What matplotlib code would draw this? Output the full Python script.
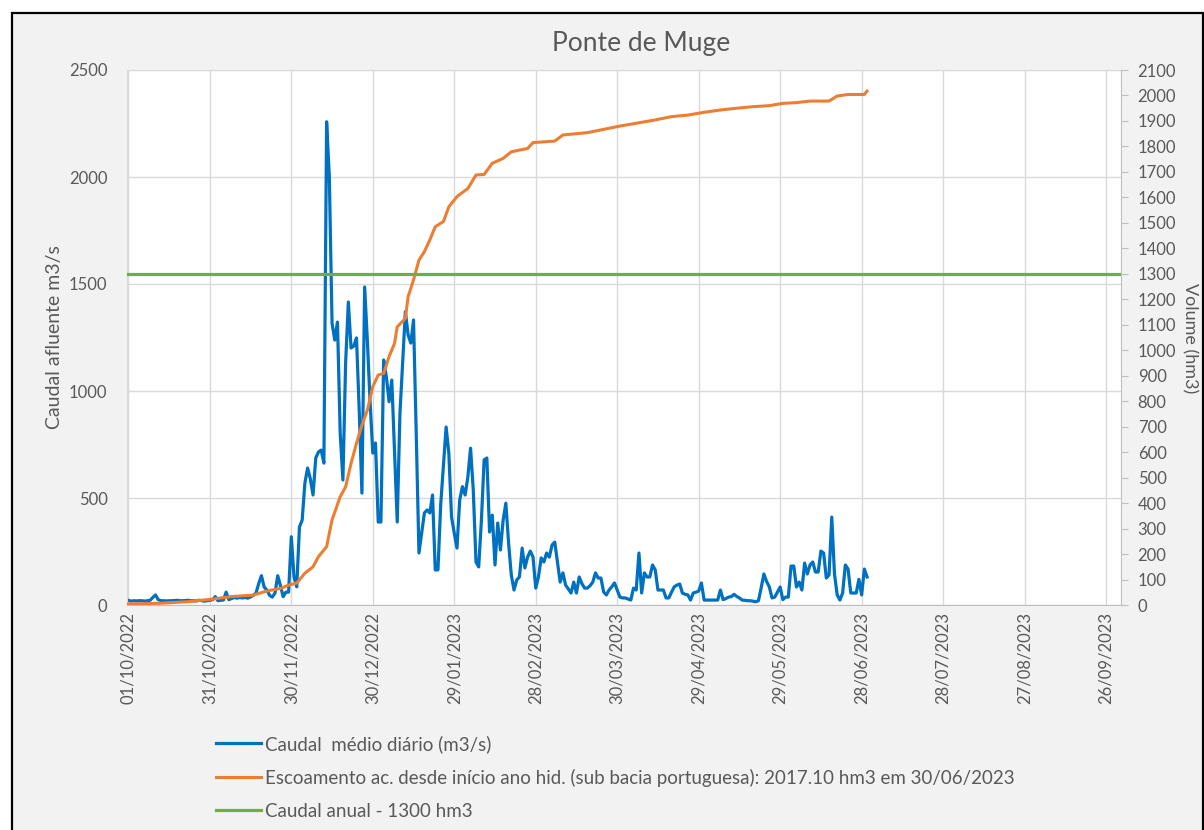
import matplotlib
matplotlib.use("Agg")
import matplotlib.pyplot as plt
import matplotlib.dates as mdates
from matplotlib.patches import Rectangle
import pandas as pd

plt.rcParams['font.family'] = ['Lato', 'DejaVu Sans']

# ---------------- data ----------------
title = "Ponte de Muge"
start_date = "2022-10-01"

# daily mean flow (m3/s), month by month
oct_q = [22, 18, 20, 19, 20, 20, 18, 20, 22, 35, 47, 25, 20, 20, 19, 20, 20, 21, 22, 20,
         20, 21, 22, 20, 20, 19, 22, 20, 18, 20, 22]
nov_q = [25, 39, 20, 22, 23, 60, 25, 30, 35, 32, 35, 33, 35, 32, 38, 45, 56, 100, 137, 84,
         70, 45, 37, 56, 137, 90, 39, 60, 60, 319]
dec_q = [130, 85, 365, 397, 570, 640, 590, 514, 687, 715, 724, 663, 2258, 2000, 1317, 1238,
         1322, 803, 584, 1131, 1416, 1201, 1210, 1248, 911, 523, 1486, 1238, 950, 710, 757]
jan_q = [388, 388, 1145, 1066, 950, 1051, 720, 388, 896, 1130, 1371, 1262, 1224, 1332, 800,
         243, 336, 430, 444, 430, 514, 164, 164, 467, 650, 832, 710, 411, 336, 266, 490]
feb_q = [553, 514, 598, 733, 537, 201, 178, 397, 678, 687, 341, 420, 187, 383, 257, 397,
         476, 290, 140, 70, 117, 131, 266, 173, 224, 252, 224, 79]
mar_q = [131, 220, 201, 243, 224, 280, 294, 200, 107, 150, 93, 75, 56, 107, 56, 131, 100,
         79, 79, 90, 107, 150, 126, 126, 61, 47, 70, 85, 103, 70, 37]
apr_q = [33, 33, 28, 23, 79, 70, 243, 56, 150, 131, 131, 187, 164, 70, 70, 70, 33, 33, 60,
         85, 93, 98, 56, 50, 47, 23, 56, 60, 65, 103]
may_q = [23, 23, 23, 23, 23, 23, 70, 25, 30, 37, 39, 50, 40, 33, 23, 22, 20, 20, 18, 15, 20,
         80, 145, 110, 85, 33, 37, 60, 84, 25, 37]
jun_q = [37, 182, 182, 84, 107, 70, 196, 145, 187, 201, 154, 154, 252, 243, 126, 140, 411,
         145, 47, 23, 56, 187, 168, 56, 56, 56, 120, 47, 168, 131]

# accumulated runoff (hm3): day of hydrological year and value
vol_days = [0, 12, 22, 30, 38, 46, 51, 56, 59, 62, 65, 68, 70, 73, 75, 78, 80, 82, 84, 86,
            88, 90, 92, 94, 96, 98, 99, 102, 103, 105, 107, 109, 111, 113, 116, 118, 121,
            125, 128, 131, 134, 138, 141, 147, 149, 157, 160, 169, 175, 181, 187, 194, 200,
            206, 212, 218, 224, 230, 236, 241, 246, 251, 258, 261, 265, 271, 272]
vol_vals = [4, 7, 13, 22, 33, 39, 55, 65, 78, 86, 125, 150, 190, 229, 334, 425, 464, 556,
            635, 706, 765, 857, 903, 909, 975, 1027, 1092, 1125, 1210, 1276, 1354, 1387,
            1433, 1485, 1505, 1563, 1603, 1635, 1688, 1690, 1734, 1753, 1779, 1792, 1815,
            1821, 1845, 1854, 1867, 1880, 1891, 1904, 1917, 1923, 1934, 1943, 1950, 1956,
            1960, 1969, 1972, 1978, 1978, 1998, 2004, 2004, 2017]

annual_volume = 1300

label_flow = "Caudal  médio diário (m3/s)"
label_vol = "Escoamento ac. desde início ano hid. (sub bacia portuguesa): 2017.10 hm3 em 30/06/2023"
label_annual = "Caudal anual - 1300 hm3"
ylabel_left = "Caudal afluente m3/s"
ylabel_right = "Volume (hm3)"

# ---------------- build ----------------
flow = oct_q + nov_q + dec_q + jan_q + feb_q + mar_q + apr_q + may_q + jun_q
t0 = pd.Timestamp(start_date)
flow_dates = pd.date_range(start_date, periods=len(flow), freq='D')
vol_dates = t0 + pd.to_timedelta(vol_days, unit='D')
tick_dates = pd.date_range(start_date, periods=13, freq='30D')

TXT = '#595959'
W, H = 1204, 830
fig = plt.figure(figsize=(W / 100, H / 100), dpi=100)
fig.patch.set_facecolor('white')
fig.patches.append(Rectangle((12 / W, -0.05), (1203 - 12) / W, 1.05 - 13 / H,
                             transform=fig.transFigure, facecolor='#f2f2f2',
                             edgecolor='black', lw=1.6, zorder=-10))

ax = fig.add_axes([127 / W, 1 - 605 / H, 994 / W, 535 / H])
ax.set_facecolor('white')
l1, = ax.plot(flow_dates, flow, color='#0070C0', lw=2.3, label=label_flow)
ax.set_ylim(0, 2500)
ax.set_yticks(range(0, 2501, 500))
ax.set_xlim(t0 - pd.Timedelta(hours=12), t0 + pd.Timedelta(days=365, hours=12))
ax.set_xticks(tick_dates)
ax.xaxis.set_major_formatter(mdates.DateFormatter('%d/%m/%Y'))
ax.grid(True, color='#d9d9d9', lw=1.0)
ax.set_axisbelow(True)
ax.tick_params(axis='y', length=0, labelsize=12, labelcolor=TXT, pad=14)
ax.tick_params(axis='x', length=0, labelsize=12, labelcolor=TXT, pad=5)
for lab in ax.get_xticklabels():
    lab.set_rotation(90)
    lab.set_ha('center')
    lab.set_va('top')
for s in ['top', 'left']:
    ax.spines[s].set_color('#d9d9d9')
ax.spines['bottom'].set_color('#bfbfbf')
ax.spines['right'].set_visible(False)

ax2 = ax.twinx()
l2, = ax2.plot(vol_dates, vol_vals, color='#ED7D31', lw=2.2, label=label_vol)
l3 = ax2.axhline(annual_volume, color='#70AD47', lw=2.3, label=label_annual)
ax2.set_ylim(0, 2100)
ax2.set_yticks(range(0, 2101, 100))
ax2.tick_params(axis='y', length=5, color='#bfbfbf', labelsize=12, labelcolor=TXT, pad=7)
for s in ['top', 'left', 'bottom']:
    ax2.spines[s].set_visible(False)
ax2.spines['right'].set_color('#bfbfbf')

fig.text(641 / W, 1 - 43 / H, title, ha='center', va='center', fontsize=19, color=TXT)
fig.text(55 / W, 1 - 337 / H, ylabel_left, rotation=90, ha='center', va='center',
         fontsize=14, color=TXT)
fig.text(1190 / W, 1 - 338 / H, ylabel_right, rotation=270, ha='center', va='center',
         fontsize=13, color=TXT)

leg = fig.legend([l1, l2, l3], [label_flow, label_vol, label_annual], loc='upper left',
                 bbox_to_anchor=(216 / W, 1 - 735 / H), frameon=False, fontsize=13.5,
                 handlelength=2.4, handletextpad=0.2, labelspacing=0.85,
                 borderaxespad=0, borderpad=0)
for t in leg.get_texts():
    t.set_color(TXT)

fig.savefig('out.png', dpi=100, facecolor=fig.get_facecolor())
